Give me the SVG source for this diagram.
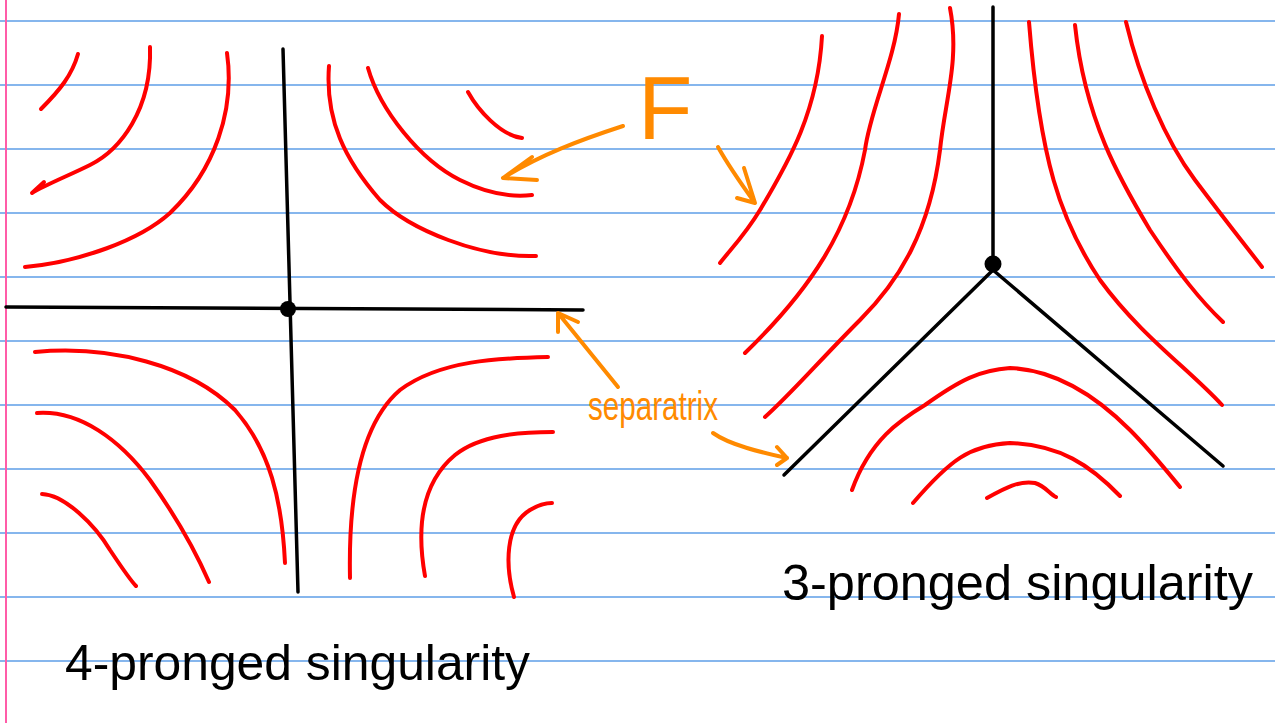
<svg xmlns="http://www.w3.org/2000/svg" width="1275" height="723" viewBox="0 0 1275 723">
<style>
.rule{stroke:#5f9fe8;stroke-width:1.5;fill:none}
.margin{stroke:#ff5ca8;stroke-width:2;fill:none}
.leaf{stroke:#ff0000;stroke-width:4;fill:none;stroke-linecap:round;stroke-linejoin:round}
.sep{stroke:#000;stroke-width:3.5;fill:none;stroke-linecap:round}
.ann{stroke:#ff8a00;stroke-width:4;fill:none;stroke-linecap:round;stroke-linejoin:round}
.hand{font-family:"Liberation Sans",Arial,sans-serif;fill:#000}
.orange{font-family:"Liberation Sans",Arial,sans-serif;fill:#ff8a00}
</style>
<rect width="1275" height="723" fill="#fff"/>
<g id="ruling">
<path class="rule" d="M0,21H1275M0,85H1275M0,149H1275M0,213H1275M0,277H1275M0,341H1275M0,405H1275M0,469H1275M0,533H1275M0,597H1275M0,661H1275"/>
<path class="margin" d="M6,0V723"/>
</g>
<g id="four-prong">
<path class="sep" d="M283,49 L298,592"/>
<path class="sep" d="M6,307 L583,310"/>
<circle cx="288" cy="309" r="8" fill="#000"/>
<path class="leaf" d="M78,54 C72,75 60,90 41,109"/>
<path class="leaf" d="M150,47 C152,110 120,150 90,165 C70,175 45,185 32,193 L44,182"/>
<path class="leaf" d="M227,53 C235,110 215,170 170,213 C140,240 80,262 25,267"/>
<path class="leaf" d="M329,66 C325,120 345,160 380,200 C410,230 480,258 536,256"/>
<path class="leaf" d="M368,68 C380,110 420,160 460,180 C490,195 515,197 532,195"/>
<path class="leaf" d="M468,92 C478,110 500,135 522,138"/>
<path class="leaf" d="M35,352 C110,345 190,365 235,410 C270,450 282,500 285,563"/>
<path class="leaf" d="M37,413 C80,410 120,440 150,480 C175,515 195,550 209,582"/>
<path class="leaf" d="M42,494 C65,495 95,525 110,550 C120,565 130,580 136,586"/>
<path class="leaf" d="M350,578 C348,480 365,420 400,390 C440,360 500,358 548,357"/>
<path class="leaf" d="M425,576 C415,520 425,480 455,455 C480,435 520,432 553,432"/>
<path class="leaf" d="M514,597 C505,565 505,525 530,510 C540,504 548,503 552,503"/>
</g>
<g id="three-prong">
<path class="sep" d="M993,7 L993,263"/>
<path class="sep" d="M993,270 L784,475"/>
<path class="sep" d="M993,270 L1223,466"/>
<circle cx="993" cy="264" r="8.5" fill="#000"/>
<path class="leaf" d="M822,36 C818,110 790,160 760,210 C745,235 730,250 720,263"/>
<path class="leaf" d="M899,14 C895,60 870,110 865,150 C850,230 810,290 745,353"/>
<path class="leaf" d="M950,8 C960,60 945,100 940,150 C930,230 900,280 860,320 C820,360 790,395 765,417"/>
<path class="leaf" d="M1029,22 C1040,160 1060,220 1100,280 C1140,335 1190,370 1222,405"/>
<path class="leaf" d="M1075,25 C1085,120 1120,180 1150,230 C1180,275 1200,300 1223,322"/>
<path class="leaf" d="M1126,22 C1140,80 1165,140 1195,180 C1225,220 1245,245 1262,267"/>
<path class="leaf" d="M852,490 C870,440 900,420 925,405 C960,380 980,370 1010,368 C1060,370 1100,400 1130,430 C1150,450 1170,475 1180,487"/>
<path class="leaf" d="M913,503 C950,460 970,445 1010,443 C1060,445 1090,465 1120,496"/>
<path class="leaf" d="M987,498 C1005,488 1020,480 1035,483 C1045,486 1050,494 1056,497"/>
</g>
<g id="annotations">
<path class="ann" d="M623,126 C580,140 540,155 503,178 M532,157 L503,178 L537,180"/>
<path class="ann" d="M718,147 C728,165 742,185 755,203 M744,168 L755,203 L737,198"/>
<path class="ann" d="M618,387 L558,313 M558,332 L558,313 L578,322"/>
<path class="ann" d="M713,433 C730,445 760,452 787,458 M777,447 L787,458 L777,465"/>
<text class="orange" x="638" y="139" font-size="89">F</text>
<text class="orange" x="588" y="420" font-size="40" textLength="130" lengthAdjust="spacingAndGlyphs">separatrix</text>
</g>
<g id="labels">
<text class="hand" x="65" y="680" font-size="50" textLength="465" lengthAdjust="spacingAndGlyphs">4-pronged singularity</text>
<text class="hand" x="782" y="600" font-size="50" textLength="471" lengthAdjust="spacingAndGlyphs">3-pronged singularity</text>
</g>
</svg>
